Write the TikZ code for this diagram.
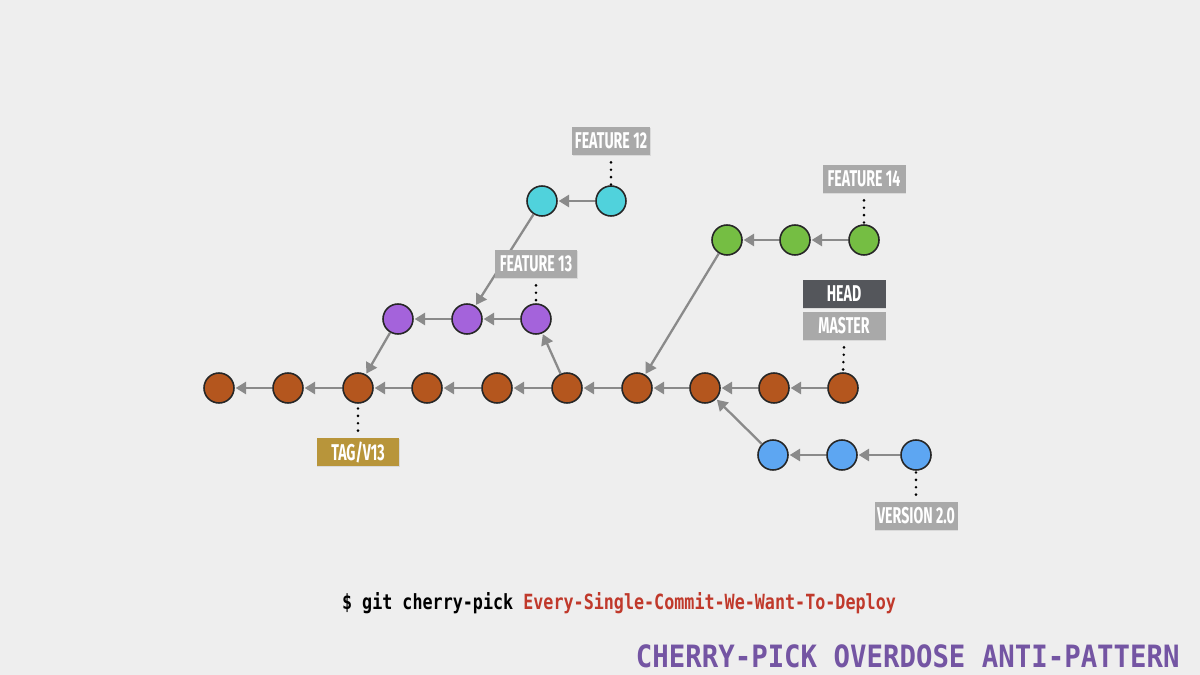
\documentclass[tikz,border=0pt]{standalone}
\usepackage{fontspec}
\usetikzlibrary{arrows.meta,shadows}
\newfontfamily\labelfont[FakeStretch=0.62]{Fira Sans}
\newfontfamily\cmdfont[FakeStretch=0.8]{DejaVu Sans Mono}
\newfontfamily\titlefont[FakeStretch=0.89]{DejaVu Sans Mono}
\definecolor{bg}{HTML}{EEEEEE}
\definecolor{brownc}{HTML}{B4561E}
\definecolor{purplec}{HTML}{A463DB}
\definecolor{cyanc}{HTML}{50D2DC}
\definecolor{greenc}{HTML}{75BE43}
\definecolor{bluec}{HTML}{5DA6F2}
\definecolor{arrowc}{HTML}{8A8A8A}
\definecolor{lblgrey}{HTML}{A9A9A9}
\definecolor{lbldark}{HTML}{54565B}
\definecolor{lblgold}{HTML}{B8953A}
\definecolor{cmdred}{HTML}{C0392B}
\definecolor{titlepurple}{HTML}{7455A3}
\tikzset{
  commit/.style={circle, draw=black!85, line width=0.9pt, minimum size=0.6cm, inner sep=0pt},
  arr/.style={draw=arrowc, line width=1.3pt, -{Triangle[length=6pt,width=7pt]}, shorten >=0.5pt},
  lbl/.style={fill=lblgrey, text=white, minimum width=1.66cm, minimum height=0.56cm, inner sep=0pt,
    font=\labelfont\bfseries\fontsize{13}{13}\selectfont, drop shadow={opacity=0.18, shadow xshift=0.3pt, shadow yshift=-0.6pt}},
  dots/.style={draw=black, line width=1.6pt, line cap=round, dash pattern=on 0pt off 4.2pt},
}
\begin{document}
\begin{tikzpicture}[x=0.02cm, y=-0.02cm]
\fill[bg] (0,0) rectangle (1200,675);
\useasboundingbox (0,0) rectangle (1200,675);
% main
\foreach \n/\x in {m1/219, m2/288, m3/358, m4/427, m5/497, m6/567, m7/637, m8/705, m9/774, m10/843}
  \node[commit, fill=brownc] (\n) at (\x,388) {};
\foreach \n/\x in {p1/398, p2/467, p3/536}
  \node[commit, fill=purplec] (\n) at (\x,319) {};
\foreach \n/\x in {c1/542, c2/611}
  \node[commit, fill=cyanc] (\n) at (\x,201) {};
\foreach \n/\x in {g1/727, g2/795, g3/864}
  \node[commit, fill=greenc] (\n) at (\x,240) {};
\foreach \n/\x in {b1/773, b2/842, b3/916}
  \node[commit, fill=bluec] (\n) at (\x,455) {};
% arrows
\draw[arr] (m2) -- (m1);
\draw[arr] (m3) -- (m2);
\draw[arr] (m4) -- (m3);
\draw[arr] (m5) -- (m4);
\draw[arr] (m6) -- (m5);
\draw[arr] (m7) -- (m6);
\draw[arr] (m8) -- (m7);
\draw[arr] (m9) -- (m8);
\draw[arr] (m10) -- (m9);
\draw[arr] (p1) -- (m3);
\draw[arr] (p2) -- (p1);
\draw[arr] (p3) -- (p2);
\draw[arr] (m6) -- (p3);
\draw[arr] (c2) -- (c1);
\draw[arr] (c1) -- (p2);
\draw[arr] (g2) -- (g1);
\draw[arr] (g3) -- (g2);
\draw[arr] (g1) -- (m7);
\draw[arr] (b2) -- (b1);
\draw[arr] (b3) -- (b2);
\draw[arr] (b1) -- (m8);
% labels
\node[lbl, minimum width=1.56cm] (f12) at (611,141) {FEATURE 12};
\node[lbl] (f13) at (536,264) {FEATURE 13};
\node[lbl] (f14) at (864,179) {FEATURE 14};
\node[lbl, fill=lbldark] (head) at (844,294) {HEAD};
\node[lbl] (master) at (844,326) {MASTER};
\node[lbl, fill=lblgold] (tag) at (358,452) {TAG/V13};
\node[lbl] (ver) at (916,516) {VERSION 2.0};
\draw[dots] ([yshift=-4pt]f12.south) -- (c2.north);
\draw[dots] ([yshift=-4pt]f13.south) -- (p3.north);
\draw[dots] ([yshift=-4pt]f14.south) -- (g3.north);
\draw[dots] ([yshift=-4pt]master.south) -- (m10.north);
\draw[dots] ([yshift=4pt]tag.north) -- (m3.south);
\draw[dots] ([yshift=4pt]ver.north) -- (b3.south);
% command
\node[anchor=base, font=\cmdfont\bfseries\fontsize{11.9}{13}\selectfont, inner sep=0pt] (cmd) at (619,609)
  {\$ git cherry-pick \textcolor{cmdred}{Every-Single-Commit-We-Want-To-Deploy}};
% title
\node[anchor=base east, font=\titlefont\bfseries\fontsize{17.5}{19}\selectfont, text=titlepurple, inner sep=0pt] (title) at (1180,667)
  {CHERRY-PICK OVERDOSE ANTI-PATTERN};
\end{tikzpicture}
\end{document}
